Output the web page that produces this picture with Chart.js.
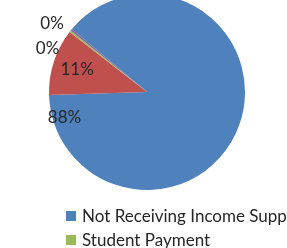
<!DOCTYPE html>
<html>
<head>
<meta charset="utf-8">
<script src="https://cdn.jsdelivr.net/npm/chart.js@4/dist/chart.umd.min.js"></script>
<style>
  html, body { margin: 0; padding: 0; background: #fff; overflow: hidden; }
  #wrap { position: relative; width: 287px; height: 248px; overflow: hidden; }
  #chart { position: absolute; left: 0; top: -6px; }
</style>
</head>
<body>
<div id="wrap"><canvas id="chart" width="287" height="254"></canvas></div>
<script>
// data (percent of total)
const categories = ['Not Receiving Income Support', 'Receiving Income Support', 'Student Payment', 'Other Payment'];
const shares = [88.4, 11.0, 0.3, 0.3];
const colours = ['#4F81BD', '#C0504D', '#9BBB59', '#8064A2'];

// where each percent label sits: angle (deg, clockwise from top) and distance as a fraction of the radius
const labelAngle = [253, 288, 293.4, 305.8];
const labelDist = [0.88, 0.75, 1.106, 1.195];

const font = 'Lato, "Liberation Sans", sans-serif';

// percent labels round the pie
const pieLabels = {
    id: 'pieLabels',
    afterDatasetsDraw(chart) {
        const ctx = chart.ctx;
        const arcs = chart.getDatasetMeta(0).data;
        const total = shares.reduce((a, b) => a + b, 0);
        ctx.save();
        ctx.font = '17px ' + font;
        ctx.fillStyle = '#262626';
        ctx.textAlign = 'center';
        ctx.textBaseline = 'middle';
        for (let i = 0; i < arcs.length; i++) {
            const arc = arcs[i];
            const a = labelAngle[i] * Math.PI / 180;
            const r = arc.outerRadius * labelDist[i];
            const x = arc.x + r * Math.sin(a);
            const y = arc.y - r * Math.cos(a);
            ctx.fillText(Math.round(shares[i] / total * 100) + '%', x, y);
        }
        ctx.restore();
    }
};

// legend in two columns under the pie, the right column falls off the edge
const sideLegend = {
    id: 'sideLegend',
    afterDraw(chart) {
        const ctx = chart.ctx;
        const top = chart.chartArea.bottom + 21;
        ctx.save();
        ctx.font = '17px ' + font;
        ctx.textBaseline = 'alphabetic';
        for (let i = 0; i < categories.length; i++) {
            const col = i % 2;
            const row = Math.floor(i / 2);
            const x = 66 + col * 250;
            const y = top + row * 24;
            ctx.fillStyle = colours[i];
            ctx.fillRect(x, y, 10, 10);
            ctx.fillStyle = '#262626';
            ctx.fillText(categories[i], x + 16, y + 11);
        }
        ctx.restore();
    }
};

new Chart(document.getElementById('chart'), {
    type: 'pie',
    data: {
        labels: categories,
        datasets: [{
            data: shares,
            backgroundColor: colours,
            borderWidth: 0,
            offset: 0,
            hoverOffset: 0
        }]
    },
    options: {
        responsive: false,
        animation: false,
        devicePixelRatio: 1,
        rotation: -50,
        layout: { padding: { left: 49, right: 42, top: 0, bottom: 58 } },
        plugins: {
            legend: { display: false },
            tooltip: { enabled: false }
        }
    },
    plugins: [pieLabels, sideLegend]
});
</script>
</body>
</html>
